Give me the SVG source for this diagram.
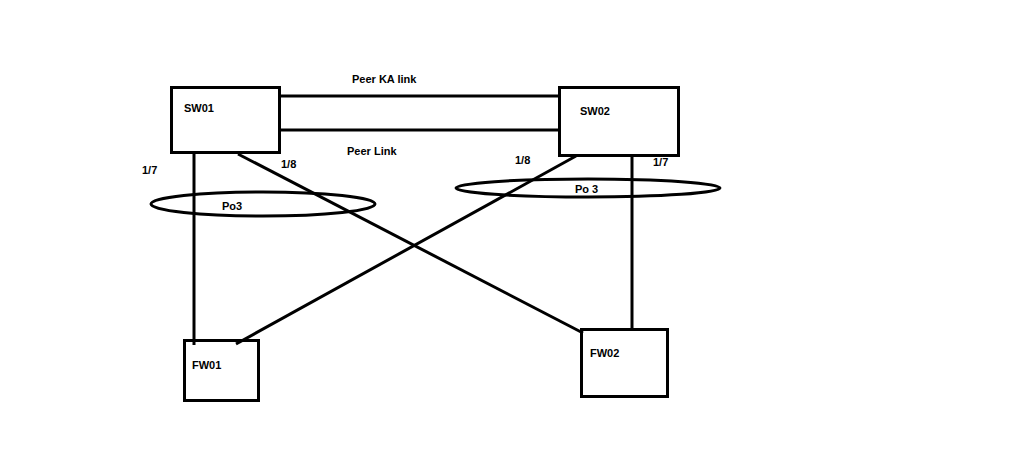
<svg xmlns="http://www.w3.org/2000/svg" width="1009" height="458" viewBox="0 0 1009 458">
<style>
.box{fill:none;stroke:#000;stroke-width:3}
.ln{fill:none;stroke:#000;stroke-width:3}
.el{fill:none;stroke:#000;stroke-width:3}
text{font-family:"Liberation Sans",Arial,sans-serif;font-size:11px;font-weight:bold;fill:#000}
</style>
<rect width="1009" height="458" fill="#fff"/>
<g id="connectors">
<line class="ln" x1="280" y1="96" x2="560" y2="96"/>
<line class="ln" x1="280" y1="130" x2="560" y2="130"/>
<line class="ln" x1="194" y1="153" x2="194" y2="345"/>
<line class="ln" x1="238" y1="154" x2="583" y2="333"/>
<line class="ln" x1="576" y1="156" x2="236" y2="344"/>
<line class="ln" x1="632" y1="156" x2="632" y2="329"/>
<ellipse class="el" cx="263" cy="204" rx="112" ry="12"/>
<ellipse class="el" cx="588" cy="188" rx="132" ry="9"/>
<text x="352" y="83">Peer KA link</text>
<text x="347" y="155">Peer Link</text>
<text x="142" y="174">1/7</text>
<text x="281" y="168">1/8</text>
<text x="515" y="164">1/8</text>
<text x="653" y="166">1/7</text>
<text x="222" y="210">Po3</text>
<text x="575" y="193">Po  3</text>
</g>
<g id="SW01"><rect class="box" x="171.5" y="87.5" width="108" height="65"/><text x="184" y="112">SW01</text></g>
<g id="SW02"><rect class="box" x="559.5" y="87.5" width="119" height="68"/><text x="580" y="115">SW02</text></g>
<g id="FW01"><rect class="box" x="184.5" y="340.5" width="74" height="60"/><text x="192" y="369">FW01</text></g>
<g id="FW02"><rect class="box" x="581.5" y="329.5" width="86" height="67"/><text x="590" y="357">FW02</text></g>
</svg>
